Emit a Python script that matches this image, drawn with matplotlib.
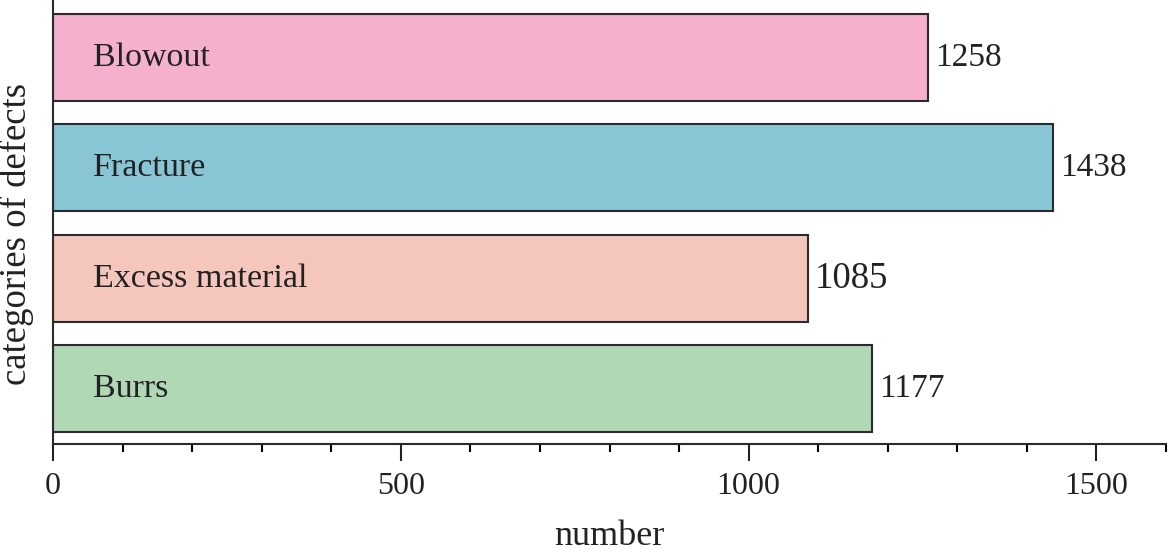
import numpy as np
import matplotlib.pyplot as plt
from matplotlib.ticker import MultipleLocator

plt.rcParams['font.family'] = ['Liberation Serif', 'DejaVu Serif']

categories = ['Blowout', 'Fracture', 'Excess material', 'Burrs']
counts = [1258, 1438, 1085, 1177]
colors = ['#F4B0CC', '#88C6D6', '#F4C6BC', '#B0D8B5']
label_sizes = [24, 24, 26.5, 24]

fig = plt.figure(figsize=(11.7, 5.52), dpi=100)
ax = fig.add_axes([0.0453, 0.1957, 0.9513, 0.8043])

y = np.arange(len(categories))[::-1]
bars = ax.barh(y, counts, height=0.79, color=colors, edgecolor='#2b2b2b', linewidth=1.5)

for yi, name, val, fs in zip(y, categories, counts, label_sizes):
    ax.text(57, yi, name, ha='left', va='center', fontsize=24.5, color='#222222')
    ax.text(val + 10, yi, str(val), ha='left', va='center', fontsize=fs, color='#222222')

ax.set_xlim(0, 1600)
ax.set_ylim(-0.5, 3.52)
ax.xaxis.set_major_locator(MultipleLocator(500))
ax.xaxis.set_minor_locator(MultipleLocator(100))
ax.set_yticks([])
ax.tick_params(axis='x', which='major', length=12, width=1.5, labelsize=23, pad=8, colors='#222222')
ax.tick_params(axis='x', which='minor', length=6, width=1.5)
for s in ['top', 'right']:
    ax.spines[s].set_visible(False)
for s in ['left', 'bottom']:
    ax.spines[s].set_linewidth(1.5)
    ax.spines[s].set_color('#2b2b2b')

ax.set_xlabel('number', fontsize=26, labelpad=14, color='#222222')
ax.set_ylabel('categories of defects', fontsize=26.5, color='#222222')
ax.yaxis.set_label_coords(-0.017, 0.473)

fig.savefig('out.png', dpi=100)
